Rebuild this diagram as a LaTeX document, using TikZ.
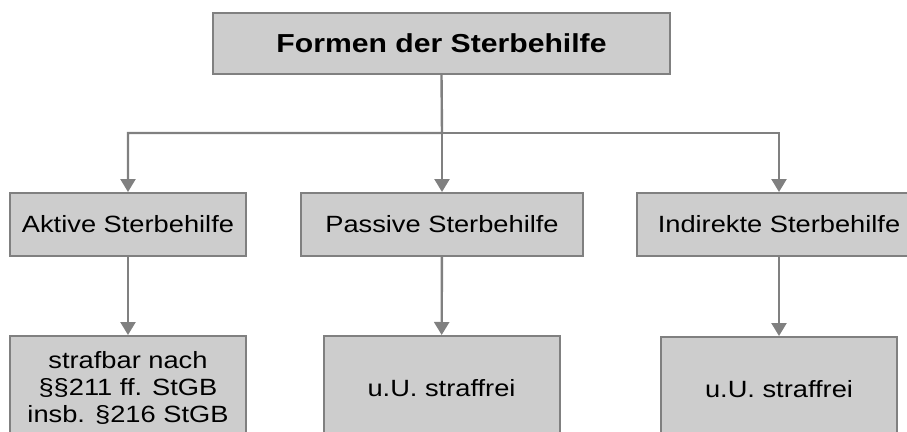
\documentclass[tikz,border=0pt]{standalone}
\usepackage{fontspec}
\setmainfont{Liberation Sans}[FakeStretch=1.16]
\usetikzlibrary{arrows.meta}
\definecolor{boxfill}{HTML}{CDCDCD}
\definecolor{boxline}{HTML}{808080}
\begin{document}
\begin{tikzpicture}[x=1pt,y=-1pt]
    \tikzset{
    sb/.style={rectangle,inner sep=0pt,fill=boxfill,draw=boxline,line width=2pt,font=\fontsize{23.5}{27}\selectfont,align=center},
    head/.style={sb,minimum width=457pt,minimum height=61pt,font=\fontsize{26}{30}\selectfont\bfseries},
    kind/.style={sb,minimum height=63pt},
    res/.style={sb,minimum width=236pt,minimum height=104pt},
    c1/.style={draw=boxline,line width=2.4pt,-{Triangle[width=15pt,length=13pt]}},
    }
    \useasboundingbox (0,0) rectangle (907,431);
    \clip (0,0) rectangle (907,431);
    \node[head] (top) at (441.5,43.5) {Formen der Sterbehilfe};
    \node[kind,minimum width=236pt] (akt) at (128,224.5) {Aktive Sterbehilfe};
    \node[kind,minimum width=282pt] (pas) at (442,224.5) {Passive Sterbehilfe};
    \node[kind,minimum width=284pt] (ind) at (779,224.5) {Indirekte Sterbehilfe};
    \node[res] (akt2) at (128,388) {strafbar nach\\§§211 ff. StGB\\insb. §216 StGB};
    \node[res] (pas2) at (441.5,388) {u.U. straffrei};
    \node[res] (ind2) at (779,389) {u.U. straffrei};
    \coordinate (split) at (442,133);

    \draw[c1] (top.south) -- (split) -| (akt.north);
    \draw[c1] (split) -| (ind.north);
    \draw[c1] (split) -- (pas.north);
    \draw[c1] (akt) -- (akt2);
    \draw[c1] (pas) -- (pas2);
    \draw[c1] (ind) -- (ind2);
\end{tikzpicture}
\end{document}
